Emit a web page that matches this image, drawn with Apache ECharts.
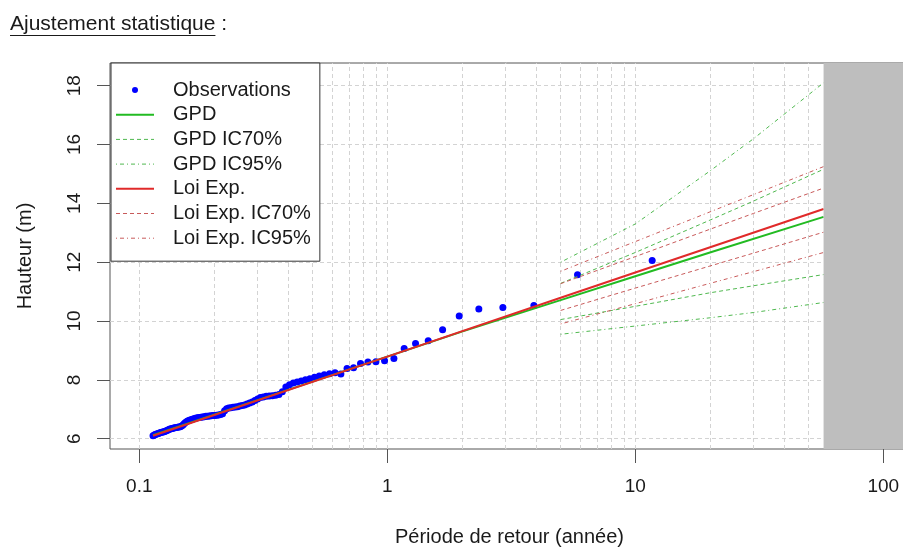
<!DOCTYPE html>
<html><head><meta charset="utf-8">
<script src="https://cdn.jsdelivr.net/npm/echarts@6/dist/echarts.min.js"></script>
<style>html,body{margin:0;padding:0;background:#fff}#c{width:903px;height:547px}</style>
</head><body><div id="c"></div>
<script>
// Observations: return period (years) and height (m)
const periods = [
0.1136,0.1147,0.1158,0.1170,0.1182,0.1194,0.1206,0.1219,0.1232,0.1245,
0.1258,0.1272,0.1286,0.1300,0.1315,0.1330,0.1345,0.1360,0.1376,0.1393,
0.1410,0.1427,0.1444,0.1463,0.1481,0.1500,0.1519,0.1539,0.1560,0.1581,
0.1603,0.1625,0.1648,0.1671,0.1696,0.1721,0.1746,0.1773,0.1800,0.1828,
0.1857,0.1887,0.1918,0.1950,0.1983,0.2017,0.2053,0.2089,0.2127,0.2167,
0.2208,0.2250,0.2294,0.2340,0.2388,0.2438,0.2489,0.2543,0.2600,0.2659,
0.2721,0.2786,0.2854,0.2925,0.3000,0.3079,0.3162,0.3250,0.3343,0.3441,
0.3545,0.3656,0.3774,0.3900,0.4034,0.4179,0.4333,0.4500,0.4680,0.4875,
0.5087,0.5318,0.5571,0.5850,0.6158,0.6500,0.6882,0.7313,0.7800,0.8357,
0.9000,0.9750,1.0636,1.1700,1.3000,1.4625,1.6714,1.9500,2.3400,2.9250,
3.9000,5.8500,11.700];
const heights = [
6.10,6.12,6.14,6.15,6.17,6.18,6.19,6.21,6.22,6.23,
6.24,6.25,6.27,6.29,6.31,6.33,6.34,6.35,6.36,6.37,
6.38,6.39,6.40,6.41,6.43,6.47,6.52,6.56,6.59,6.62,
6.64,6.65,6.67,6.69,6.70,6.71,6.72,6.73,6.74,6.75,
6.76,6.76,6.77,6.78,6.79,6.79,6.80,6.81,6.82,6.85,
6.95,7.02,7.04,7.05,7.07,7.08,7.09,7.11,7.13,7.15,
7.18,7.21,7.25,7.30,7.35,7.40,7.42,7.44,7.45,7.46,
7.48,7.50,7.60,7.76,7.83,7.89,7.93,7.96,8.00,8.04,
8.09,8.13,8.17,8.21,8.24,8.20,8.39,8.41,8.56,8.61,
8.62,8.65,8.73,9.07,9.24,9.33,9.70,10.17,10.41,10.46,
10.53,11.57,12.06];

// Fitted curves
const expPeriods = [0.1136, 1, 5, 10, 57.45];
const expFit     = [6.10, 8.79, 10.79, 11.65, 13.81];
const gpdPeriods = [0.1136, 1, 2, 5, 10, 20, 57.45];
const gpdFit     = [6.12, 8.79, 9.64, 10.71, 11.52, 12.33, 13.54];

// Confidence intervals
const ciPeriods = [5, 10, 20, 30, 57.45];
const gpdIC70Up  = [11.28, 12.33, 13.43, 14.08, 15.16];
const gpdIC70Low = [10.05, 10.50, 10.96, 11.20, 11.58];
const gpdIC95Up  = [12.00, 13.30, 15.10, 16.20, 18.10];
const gpdIC95Low = [9.55, 9.83, 10.11, 10.29, 10.63];
const expIC70Up  = [11.27, 12.19, 13.12, 13.66, 14.52];
const expIC70Low = [10.36, 11.12, 11.87, 12.31, 13.02];
const expIC95Up  = [11.69, 12.70, 13.71, 14.30, 15.25];
const expIC95Low = [9.90, 10.59, 11.28, 11.68, 12.33];

// Axes
const xTicks = [0.1, 1, 10, 100];
const yTicks = [6, 8, 10, 12, 14, 16, 18];
const xGridValues = [0.1,0.2,0.3,0.4,0.5,0.6,0.7,0.8,0.9,1,2,3,4,5,6,7,8,9,10,20,30,40,50];
const grayFrom = 57.45;
const xMin = 0.0762, xMax = 120.1, yMin = 5.65, yMax = 18.772;

const FONT = '"Liberation Sans", Arial, sans-serif';
const pairs = (xs, ys) => xs.map((x, i) => [x, ys[i]]);
const cGreen = '#22bb22', cRed = '#e02a2a', ciGreen = '#4fb84f', ciRed = '#c85a5a';
const dash70 = [4, 3], dash95 = [1, 3, 4, 3];
function lineS(name, xs, ys, color, width, type) {
  return { name, type: 'line', data: pairs(xs, ys), symbol: 'none', showSymbol: false,
    lineStyle: { color, width, type }, itemStyle: { color }, silent: true, z: 3 };
}
function legItem(name, color, width, type) {
  return { name, itemStyle: { opacity: 0 }, lineStyle: { color, width, type, opacity: 1 } };
}

const ctx = document.createElement('canvas').getContext('2d');
ctx.font = '21px "Liberation Sans"';
const ulW = ctx.measureText('Ajustement statistique').width;

const chart = echarts.init(document.getElementById('c'), null, { renderer: 'canvas' });
chart.setOption({
  animation: false,
  textStyle: { fontFamily: FONT },
  graphic: [
    { type: 'text', left: 10, top: 14, style: { text: 'Ajustement statistique :', font: '21px ' + FONT, fill: '#1a1a1a' } },
    { type: 'line', shape: { x1: 10, y1: 35.5, x2: 10 + ulW, y2: 35.5 }, style: { stroke: '#1a1a1a', lineWidth: 1 } }
  ],
  grid: { left: 110, top: 63, right: 0, height: 386, outerBoundsMode: 'none', containLabel: false,
    show: true, borderColor: '#555', borderWidth: 1, backgroundColor: 'transparent' },
  legend: {
    orient: 'vertical', left: 111, top: 63,
    padding: [17, 9, 13, 4], itemWidth: 38, itemHeight: 14, itemGap: 4.7,
    backgroundColor: '#fff', borderColor: '#333', borderWidth: 1, borderRadius: 0,
    textStyle: { fontSize: 20, color: '#1a1a1a', fontFamily: FONT, lineHeight: 20, padding: [0, 0, 0, 14] },
    data: [
      { name: 'Observations', icon: 'path://M0,0M38,14M16,7a3,3 0 1,0 6,0a3,3 0 1,0 -6,0', itemStyle: { opacity: 1, color: '#0000ff' } },
      legItem('GPD', cGreen, 2, 'solid'),
      legItem('GPD IC70%', ciGreen, 1, dash70),
      legItem('GPD IC95%', ciGreen, 1, dash95),
      legItem('Loi Exp.', cRed, 2, 'solid'),
      legItem('Loi Exp. IC70%', ciRed, 1, dash70),
      legItem('Loi Exp. IC95%', ciRed, 1, dash95)
    ]
  },
  xAxis: {
    type: 'log', logBase: 10, min: xMin, max: xMax,
    axisLine: { show: false },
    axisTick: { show: true, length: 14, lineStyle: { color: '#555' }, customValues: xTicks },
    axisLabel: { customValues: xTicks, margin: 28, fontSize: 19, color: '#1a1a1a', fontFamily: FONT,
      formatter: v => String(+v.toPrecision(6)) },
    splitLine: { show: false },
    name: 'Période de retour (année)', nameLocation: 'middle', nameGap: 78,
    nameTextStyle: { fontSize: 20, color: '#1a1a1a', fontFamily: FONT, padding: [0, 0, 0, 6] }
  },
  yAxis: {
    type: 'value', min: yMin, max: yMax,
    axisLine: { show: false },
    axisTick: { show: true, length: 13, lineStyle: { color: '#555' }, customValues: yTicks },
    axisLabel: { customValues: yTicks, rotate: 90, margin: 26, fontSize: 19, color: '#1a1a1a', fontFamily: FONT },
    splitLine: { show: false },
    name: 'Hauteur (m)', nameLocation: 'middle', nameGap: 75, nameRotate: 90,
    nameTextStyle: { fontSize: 20, color: '#1a1a1a', fontFamily: FONT }
  },
  series: [
    { name: '_grid', type: 'line', data: [], silent: true, z: 1,
      markLine: { silent: true, z: 1, symbol: ['none', 'none'], label: { show: false },
        lineStyle: { color: '#d3d3d3', type: [4, 3], width: 1 },
        emphasis: { disabled: true },
        data: xGridValues.map(v => ({ xAxis: v })).concat(yTicks.map(v => ({ yAxis: v }))) } },
    { name: 'Observations', type: 'scatter', data: pairs(periods, heights), symbol: 'circle', symbolSize: 7,
      itemStyle: { color: '#0000ff', opacity: 1 }, silent: true, z: 2 },
    lineS('GPD', gpdPeriods, gpdFit, cGreen, 2, 'solid'),
    lineS('GPD IC70%', ciPeriods, gpdIC70Up, ciGreen, 1, dash70),
    lineS('GPD IC70%', ciPeriods, gpdIC70Low, ciGreen, 1, dash70),
    lineS('GPD IC95%', ciPeriods, gpdIC95Up, ciGreen, 1, dash95),
    lineS('GPD IC95%', ciPeriods, gpdIC95Low, ciGreen, 1, dash95),
    lineS('Loi Exp.', expPeriods, expFit, cRed, 2, 'solid'),
    lineS('Loi Exp. IC70%', ciPeriods, expIC70Up, ciRed, 1, dash70),
    lineS('Loi Exp. IC70%', ciPeriods, expIC70Low, ciRed, 1, dash70),
    lineS('Loi Exp. IC95%', ciPeriods, expIC95Up, ciRed, 1, dash95),
    lineS('Loi Exp. IC95%', ciPeriods, expIC95Low, ciRed, 1, dash95),
    { name: '_gray', type: 'line', data: [], silent: true, z: 10,
      markArea: { silent: true, z: 10, itemStyle: { color: '#bebebe' },
        data: [[{ xAxis: grayFrom, yAxis: yMin }, { xAxis: xMax, yAxis: yMax }]] } }
  ]
});
</script></body></html>
